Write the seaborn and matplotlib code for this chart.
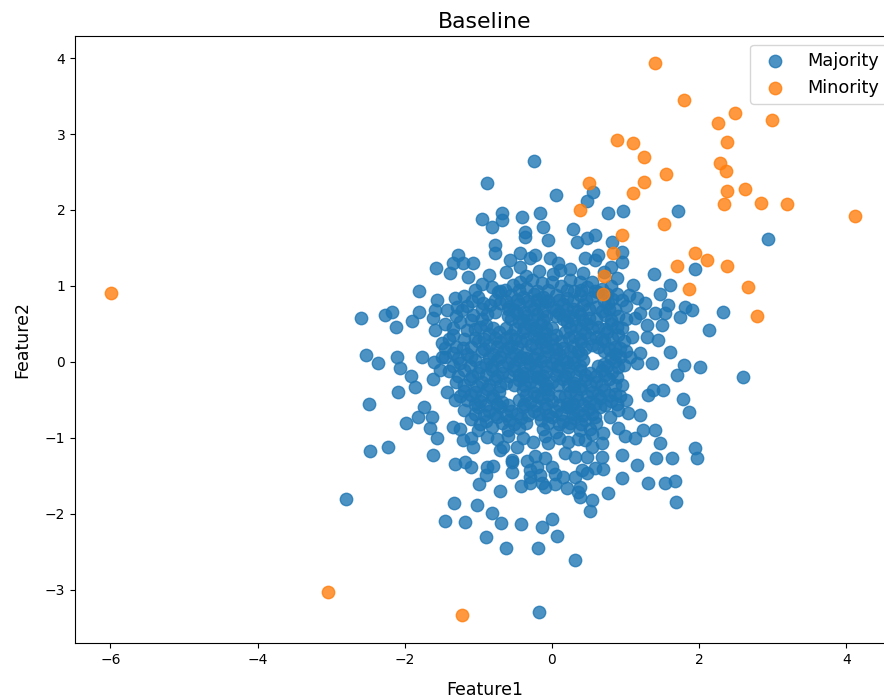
import numpy as np
import pandas as pd
import matplotlib
matplotlib.use("Agg")
import matplotlib.pyplot as plt
import seaborn as sns

# -----------------------------------
# Data
# -----------------------------------

# majority class, upper part of the cloud
maj_upper = [
    (-0.25, 2.65), (-0.88, 2.35), (0.05, 2.20), (0.56, 2.24), (0.48, 2.12), (0.76, 1.96),
    (0.96, 1.99), (1.71, 1.99), (2.93, 1.62), (-0.95, 1.88), (-0.82, 1.78), (-0.68, 1.96),
    (-0.68, 1.87), (-0.41, 1.91), (-0.16, 1.96), (-0.12, 1.78), (-0.37, 1.71), (-0.37, 1.65),
    (-0.05, 1.61), (-0.77, 1.54), (-0.77, 1.43), (-0.57, 1.34), (-0.43, 1.43), (-0.30, 1.37),
    (-0.23, 1.41), (-0.43, 1.25), (-0.03, 1.37), (-1.28, 1.41), (-1.35, 1.30), (-1.21, 1.30),
    (-1.07, 1.30), (-1.58, 1.24), (-1.39, 1.17), (-1.14, 1.12), (0.29, 1.75), (0.34, 1.58),
    (0.48, 1.63), (0.58, 1.67), (0.82, 1.58), (0.95, 1.45), (0.95, 1.32), (0.45, 1.37),
    (0.58, 1.34), (0.63, 1.41), (0.08, 1.30), (0.11, 1.21), (1.39, 1.16), (1.94, 1.22),
]

# majority class, left side
maj_left = [
    (-1.80, 0.93), (-1.56, 0.82), (-1.32, 0.84), (-1.29, 0.72), (-1.43, 0.68), (-1.59, 0.68),
    (-1.62, 0.58), (-1.59, 0.42), (-2.60, 0.58), (-2.27, 0.62), (-2.17, 0.66), (-2.12, 0.46),
    (-1.90, 0.54), (-1.81, 0.66), (-2.53, 0.09), (-2.36, -0.01), (-2.11, 0.07), (-1.76, 0.07),
    (-2.07, -0.08), (-1.92, -0.18), (-1.86, -0.33), (-2.09, -0.39), (-1.62, -0.23), (-1.46, 0.07),
    (-1.43, -0.39), (-2.49, -0.55), (-1.98, -0.80), (-1.74, -0.60), (-1.82, -0.72), (-1.66, -0.87),
    (-1.56, -1.00), (-2.47, -1.17), (-2.23, -1.12), (-1.62, -1.22), (-1.52, -0.11), (-1.32, -0.50),
    (-1.63, -0.72), (-1.35, -0.86), (-1.21, -1.03), (-1.07, -1.12), (-0.88, -0.99), (-1.21, 0.18),
    (-1.07, 0.62), (-0.98, 0.46), (-1.15, 0.42), (-1.05, 0.95), (-0.94, 0.78), (-0.84, 0.75),
    (-0.73, 0.92), (-0.64, 0.95), (-0.53, 1.01), (-0.43, 1.05), (-0.27, 1.08), (-0.14, 1.04),
    (0.00, 1.05),
]

# majority class, dense core
maj_core = [
    (-0.85, 1.15), (-0.62, 1.18), (-0.35, 1.13), (-0.18, 1.20), (0.02, 1.16), (0.25, 1.22),
    (0.42, 1.17), (0.70, 1.19), (0.80, 1.25),
    (-0.95, 1.02), (-0.82, 0.98), (-0.35, 0.97), (-0.05, 0.95), (0.12, 1.00), (0.30, 0.93),
    (0.48, 0.98), (0.68, 0.96), (0.80, 1.00),
    (-1.20, 0.87), (-1.00, 0.85), (-0.55, 0.88), (-0.40, 0.85), (-0.25, 0.90), (-0.12, 0.86),
    (0.05, 0.88), (0.20, 0.84), (0.38, 0.88), (0.55, 0.86), (0.62, 0.92), (0.88, 0.90), (1.05, 0.88),
    (-1.15, 0.74), (-0.70, 0.78), (-0.58, 0.72), (-0.45, 0.76), (-0.30, 0.73), (-0.15, 0.77),
    (0.00, 0.72), (0.15, 0.76), (0.28, 0.70), (0.42, 0.75), (0.60, 0.72), (0.85, 0.70), (1.00, 0.74),
    (-1.30, 0.60), (-0.88, 0.63), (-0.60, 0.60), (-0.48, 0.64), (-0.35, 0.60), (-0.20, 0.63),
    (-0.08, 0.60), (0.10, 0.64), (0.22, 0.60), (0.38, 0.63), (0.50, 0.58), (0.72, 0.62),
    (0.90, 0.60), (1.20, 0.65),
    (-1.45, 0.50), (-1.25, 0.52), (-0.90, 0.48), (-0.62, 0.45), (-0.45, 0.52), (-0.30, 0.48),
    (-0.15, 0.50), (0.00, 0.45), (0.20, 0.52), (0.32, 0.47), (0.48, 0.50), (0.62, 0.46),
    (0.80, 0.50), (0.95, 0.45),
    (-1.35, 0.36), (-1.20, 0.30), (-0.85, 0.37), (-0.72, 0.40), (-0.55, 0.35), (-0.40, 0.39),
    (-0.25, 0.34), (-0.10, 0.38), (0.05, 0.35), (0.18, 0.40), (0.30, 0.34), (0.45, 0.38),
    (0.60, 0.33), (0.75, 0.40), (0.90, 0.36),
    (-1.50, 0.25), (-1.30, 0.20), (-1.00, 0.27), (-0.85, 0.22), (-0.70, 0.26), (-0.55, 0.21),
    (-0.42, 0.27), (-0.28, 0.22), (-0.15, 0.26), (0.00, 0.22), (0.12, 0.27), (0.28, 0.21),
    (0.40, 0.26), (0.55, 0.22), (0.70, 0.27), (0.85, 0.20), (0.98, 0.28),
    (-1.35, 0.12), (-1.15, 0.10), (-0.95, 0.14), (-0.80, 0.10), (-0.65, 0.15), (-0.50, 0.10),
    (-0.35, 0.13), (-0.20, 0.10), (-0.05, 0.14), (0.10, 0.10), (0.25, 0.15), (0.40, 0.11),
    (0.70, 0.14), (0.85, 0.10), (1.00, 0.15), (1.20, 0.12),
    (-1.60, 0.00), (-1.25, -0.02), (-1.05, 0.02), (-0.90, -0.03), (-0.75, 0.03), (-0.60, -0.01),
    (-0.45, 0.02), (-0.30, -0.03), (-0.15, 0.01), (0.00, -0.02), (0.15, 0.03), (0.30, -0.01),
    (0.42, 0.02), (0.70, -0.03), (0.85, 0.01), (0.98, -0.04),
    (-1.40, -0.12), (-1.20, -0.10), (-1.00, -0.14), (-0.82, -0.10), (-0.68, -0.15), (-0.52, -0.11),
    (-0.38, -0.14), (-0.22, -0.10), (-0.08, -0.13), (0.08, -0.10), (0.22, -0.15), (0.38, -0.11),
    (0.52, -0.14), (0.68, -0.10), (0.82, -0.13),
    (-1.30, -0.26), (-1.12, -0.22), (-0.95, -0.27), (-0.78, -0.23), (-0.62, -0.28), (-0.45, -0.24),
    (-0.30, -0.27), (-0.15, -0.22), (0.00, -0.26), (0.15, -0.23), (0.30, -0.28), (0.45, -0.24),
    (0.60, -0.27), (0.78, -0.22), (0.95, -0.30),
    (-1.20, -0.38), (-1.05, -0.40), (-0.88, -0.36), (-0.72, -0.40), (-0.40, -0.37), (-0.25, -0.41),
    (-0.10, -0.36), (0.25, -0.39), (0.40, -0.35), (0.55, -0.40), (0.70, -0.37), (0.85, -0.42),
    (-1.15, -0.50), (-0.98, -0.52), (-0.82, -0.48), (-0.68, -0.53), (-0.45, -0.50), (-0.30, -0.53),
    (-0.15, -0.48), (0.00, -0.52), (0.20, -0.55), (0.35, -0.50), (0.50, -0.53), (0.65, -0.48),
    (0.80, -0.52), (1.00, -0.50),
    (-1.20, -0.63), (-1.00, -0.60), (-0.85, -0.65), (-0.70, -0.60), (-0.55, -0.64), (-0.40, -0.60),
    (-0.25, -0.65), (-0.10, -0.61), (0.05, -0.64), (0.20, -0.60), (0.35, -0.66), (0.50, -0.62),
    (0.65, -0.60), (0.90, -0.63),
    (-1.10, -0.75), (-0.90, -0.78), (-0.75, -0.73), (-0.58, -0.77), (-0.42, -0.74), (-0.15, -0.76),
    (0.00, -0.73), (0.15, -0.78), (0.30, -0.74), (0.45, -0.77), (0.58, -0.73),
    (-1.25, -0.88), (-1.00, -0.90), (-0.82, -0.86), (-0.60, -0.90), (-0.45, -0.87), (-0.12, -0.88),
    (0.05, -0.92), (0.22, -0.86), (0.38, -0.90), (0.52, -0.88), (0.90, -0.87),
    (-1.10, -1.00), (-0.75, -1.02), (-0.60, -0.98), (-0.40, -1.00), (-0.10, -0.98), (0.10, -1.00),
    (0.35, -1.02), (0.55, -0.95),
    (-0.10, 0.30), (0.15, 0.18), (-0.35, 0.05), (0.30, -0.32), (-0.20, -0.20), (0.10, -0.45),
    (-0.50, 0.30), (0.20, 0.00), (-0.05, -0.35), (0.35, 0.15), (-0.25, 0.45), (0.05, 0.60),
    (0.25, -0.60), (-0.40, -0.20), (-0.60, 0.70), (-0.10, 0.80),
]

# majority class, core points lying between the rows above
maj_core_fill = [
    (-0.70, 0.93), (-0.45, 0.95), (-0.20, 0.93), (0.20, 0.95), (0.40, 0.94), (0.58, 0.93),
    (0.75, 0.90),
    (-1.08, 0.80), (-0.78, 0.82), (-0.62, 0.80), (-0.48, 0.82), (-0.32, 0.80), (-0.20, 0.82),
    (-0.05, 0.80), (0.10, 0.82), (0.28, 0.80), (0.46, 0.82), (0.70, 0.80), (0.82, 0.83),
    (-1.22, 0.68), (-0.95, 0.70), (-0.78, 0.66), (-0.52, 0.68), (-0.38, 0.66), (-0.25, 0.69),
    (-0.12, 0.67), (0.05, 0.68), (0.20, 0.69), (0.35, 0.67), (0.50, 0.70), (0.68, 0.67),
    (0.78, 0.70),
    (-1.10, 0.55), (-0.95, 0.57), (-0.55, 0.56), (-0.40, 0.55), (-0.27, 0.56), (-0.12, 0.55),
    (0.15, 0.56), (0.30, 0.57), (0.42, 0.55), (0.60, 0.57), (0.80, 0.55), (1.00, 0.57),
    (-1.35, 0.45), (-1.05, 0.43), (-0.80, 0.44), (-0.50, 0.43), (-0.38, 0.45), (-0.22, 0.42),
    (-0.08, 0.44), (0.25, 0.44), (0.40, 0.43), (0.55, 0.45), (0.72, 0.43), (0.88, 0.46),
    (-1.40, 0.30), (-1.05, 0.32), (-0.92, 0.30), (-0.78, 0.32), (-0.62, 0.31), (-0.35, 0.30),
    (-0.18, 0.31), (0.00, 0.30), (0.23, 0.31), (0.38, 0.30), (0.52, 0.32), (0.68, 0.30),
    (0.82, 0.31),
    (-1.45, 0.18), (-1.10, 0.19), (-0.92, 0.17), (-0.75, 0.19), (-0.60, 0.18), (-0.48, 0.19),
    (-0.22, 0.18), (-0.08, 0.19), (0.05, 0.17), (0.45, 0.18), (0.62, 0.19), (0.78, 0.17),
    (0.92, 0.18),
    (-1.50, 0.06), (-1.28, 0.05), (-1.10, 0.06), (-0.85, 0.05), (-0.70, 0.07), (-0.55, 0.05),
    (-0.42, 0.06), (-0.25, 0.05), (-0.10, 0.07), (0.05, 0.05), (0.28, 0.06), (0.80, 0.05),
    (0.92, 0.07),
    (-1.35, -0.05), (-1.12, -0.06), (-0.98, -0.07), (-0.82, -0.05), (-0.68, -0.06), (-0.52, -0.05),
    (-0.38, -0.07), (-0.22, -0.05), (-0.08, -0.06), (0.08, -0.05), (0.22, -0.07), (0.38, -0.05),
    (0.62, -0.06), (0.75, -0.05), (0.90, -0.07),
    (-1.28, -0.18), (-1.08, -0.19), (-0.90, -0.17), (-0.75, -0.19), (-0.58, -0.18), (-0.45, -0.17),
    (-0.30, -0.19), (-0.12, -0.18), (0.05, -0.17), (0.18, -0.19), (0.32, -0.18), (0.45, -0.17),
    (0.60, -0.19), (0.72, -0.17), (0.88, -0.20),
    (-1.20, -0.31), (-1.02, -0.32), (-0.85, -0.30), (-0.70, -0.32), (-0.52, -0.31), (-0.38, -0.30),
    (-0.22, -0.32), (-0.08, -0.30), (0.08, -0.31), (0.22, -0.30), (0.38, -0.32), (0.52, -0.30),
    (0.68, -0.31), (0.85, -0.30),
    (-1.25, -0.45), (-1.10, -0.44), (-0.95, -0.43), (-0.80, -0.45), (-0.35, -0.44), (-0.20, -0.45),
    (-0.05, -0.43), (0.18, -0.45), (0.32, -0.43), (0.48, -0.45), (0.62, -0.44), (0.78, -0.43),
    (0.92, -0.45),
    (-1.05, -0.56), (-0.90, -0.57), (-0.75, -0.55), (-0.60, -0.57), (-0.38, -0.56), (-0.22, -0.57),
    (-0.08, -0.55), (0.10, -0.57), (0.28, -0.56), (0.42, -0.57), (0.58, -0.55), (0.72, -0.57),
    (0.88, -0.56),
    (-1.05, -0.68), (-0.92, -0.70), (-0.78, -0.68), (-0.62, -0.70), (-0.48, -0.69), (-0.32, -0.70),
    (-0.18, -0.68), (-0.05, -0.70), (0.12, -0.69), (0.28, -0.68), (0.42, -0.70), (0.55, -0.69),
    (-0.98, -0.82), (-0.68, -0.80), (-0.52, -0.82), (-0.35, -0.80), (-0.05, -0.81), (0.10, -0.82),
    (0.25, -0.80), (0.40, -0.82), (0.60, -0.80),
]

# majority class, right side
maj_right = [
    (0.24, 1.08), (0.38, 1.05), (0.54, 1.05), (0.88, 1.11), (1.10, 1.01), (1.60, 1.01),
    (1.47, 0.89), (1.15, 0.84), (1.26, 0.78), (1.58, 0.75), (1.74, 0.59), (1.40, 0.64),
    (1.49, 0.49), (1.81, 0.72), (1.90, 0.68), (0.95, 0.82), (0.76, 0.78), (1.13, 0.58),
    (1.29, 0.49), (1.09, 0.33), (1.29, 0.33), (1.44, 0.29), (1.60, 0.13), (1.54, 0.64),
    (2.32, 0.66), (2.13, 0.42), (2.60, -0.20), (1.36, -0.01), (1.15, -0.01), (1.06, 0.07),
    (1.79, -0.04), (1.70, -0.17), (2.01, -0.07), (1.37, -0.37), (1.51, -0.37), (1.30, -0.43),
    (1.78, -0.49), (1.86, -0.66), (1.03, -0.67), (1.20, -0.70), (0.79, -0.72), (0.99, -0.98),
    (1.13, -1.00), (1.24, -0.89), (1.40, -0.89), (1.47, -1.07), (1.94, -1.13), (1.97, -1.27),
    (1.41, -1.27), (1.63, -1.27), (0.95, -1.22), (1.15, -1.36), (0.95, -1.53), (1.30, -1.59),
    (1.53, -1.59), (1.67, -1.57), (1.68, -1.84),
]

# majority class, lower part
maj_lower = [
    (0.76, -1.72), (0.48, -1.46), (0.58, -1.39), (0.69, -1.41), (0.31, -1.51), (0.38, -1.64),
    (0.38, -1.78), (0.15, -1.51), (0.20, -1.66), (0.54, -1.12), (0.68, -1.07), (0.45, -1.03),
    (0.22, -1.05), (0.18, -1.20), (0.31, -1.25), (0.48, -1.25), (0.68, -1.25), (0.69, -0.93),
    (-0.80, -1.37), (-0.54, -1.45), (-0.54, -1.32), (-0.30, -1.42), (-0.34, -1.30), (-0.23, -1.24),
    (-0.10, -1.27), (0.00, -1.38), (-0.16, -1.49), (-0.30, -1.60), (-0.10, -1.64), (0.04, -1.47),
    (-0.42, -1.63), (-0.71, -1.70), (0.04, -1.61), (0.35, -1.71), (0.54, -1.82), (0.52, -1.96),
    (0.41, -1.42), (-0.82, -1.99), (-0.69, -2.12), (-0.42, -2.13), (-0.14, -2.17), (0.00, -2.07),
    (0.07, -2.29), (-0.63, -2.45), (-0.19, -2.45), (0.31, -2.61), (-0.18, -3.29), (-0.90, -2.30),
    (-2.80, -1.80), (-1.32, -1.34), (-1.18, -1.32), (-1.10, -1.38), (-0.88, -1.38), (-0.99, -1.61),
    (-0.90, -1.49), (-1.33, -1.86), (-1.02, -1.89), (-1.45, -2.09), (-1.18, -2.11), (-0.67, -1.12),
    (-0.54, -1.29), (-0.20, -1.38), (-0.30, -1.51), (-0.14, -1.59), (-0.71, -1.16), (-0.48, -1.12),
    (-0.26, -1.05), (-0.05, -1.07),
]

# minority class
minority = [
    (1.40, 3.93), (1.79, 3.45), (2.49, 3.28), (2.26, 3.14), (2.99, 3.18), (0.88, 2.92),
    (1.10, 2.88), (2.38, 2.90), (1.25, 2.70), (2.28, 2.62), (2.36, 2.51), (1.55, 2.47),
    (0.50, 2.36), (1.25, 2.37), (2.62, 2.28), (2.38, 2.25), (1.10, 2.22), (0.38, 2.00),
    (2.34, 2.08), (2.84, 2.09), (3.19, 2.08), (4.12, 1.92), (1.52, 1.82), (0.95, 1.67),
    (0.83, 1.43), (1.94, 1.43), (2.10, 1.34), (1.70, 1.26), (2.38, 1.26), (0.71, 1.13),
    (1.86, 0.96), (2.66, 0.99), (0.69, 0.89), (2.79, 0.61), (-5.99, 0.91), (-3.04, -3.03),
    (-1.22, -3.33),
]

majority = maj_upper + maj_left + maj_core + maj_core_fill + maj_right + maj_lower
df_maj = pd.DataFrame(majority, columns=["Feature1", "Feature2"])
df_min = pd.DataFrame(minority, columns=["Feature1", "Feature2"])

# -----------------------------------
# Plot
# -----------------------------------

fig = plt.figure(figsize=(8.84, 7), dpi=100)
# the reference is cut off on the right: no right spine, legend runs off the edge
ax = fig.add_axes([75 / 884, 57 / 700, 820 / 884, 607 / 700])
ax.spines["right"].set_visible(False)

sns.scatterplot(data=df_maj, x="Feature1", y="Feature2", color="#1f77b4",
                alpha=0.8, s=80, edgecolor="face", linewidth=1,
                label="Majority", ax=ax)
sns.scatterplot(data=df_min, x="Feature1", y="Feature2", color="#ff7f0e",
                alpha=0.8, s=80, edgecolor="face", linewidth=1,
                label="Minority", ax=ax)

ax.set_xlim(-6.48, 4.66)
ax.set_ylim(-3.70, 4.29)
ax.set_title("Baseline", fontsize=15.8)
ax.set_xlabel("Feature1", fontsize=12.5, labelpad=10)
ax.set_ylabel("Feature2", fontsize=12.5, labelpad=10)
ax.tick_params(labelsize=10)
ax.legend(loc="upper right", fontsize=12.8)

fig.savefig("out.png", dpi=100)
